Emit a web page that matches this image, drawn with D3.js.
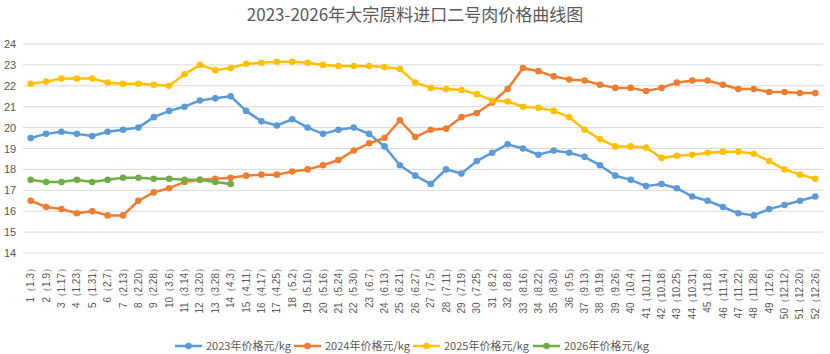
<!DOCTYPE html>
<html>
<head>
<meta charset="utf-8">
<script src="https://cdn.jsdelivr.net/npm/d3@7"></script>
<style>
  body { margin: 0; background: #fff; }
  text { font-family: "Noto Sans CJK SC", "Noto Sans", sans-serif; }
</style>
</head>
<body>
<div id="chart"></div>
<script>
// week labels
const weeks = ["1（1.3）","2（1.9）","3（1.17）","4（1.23）","5（1.31）","6（2.7）","7（2.13）","8（2.20）","9（2.28）","10（3.6）",
  "11（3.14）","12（3.20）","13（3.28）","14（4.3）","15（4.11）","16（4.17）","17（4.25）","18（5.2）","19（5.10）","20（5.16）",
  "21（5.24）","22（5.30）","23（6.7）","24（6.13）","25（6.21）","26（6.27）","27（7.5）","28（7.11）","29（7.19）","30（7.25）",
  "31（8.2）","32（8.8）","33（8.16）","34（8.22）","35（8.30）","36（9.5）","37（9.13）","38（9.19）","39（9.26）","40（10.4）",
  "41（10.11）","42（10.18）","43（10.25）","44（10.31）","45（11.8）","46（11.14）","47（11.22）","48（11.28）","49（12.6）","50（12.12）",
  "51（12.20）","52（12.26）"];

const price2023 = [19.5,19.7,19.8,19.7,19.6,19.8,19.9,20.0,20.5,20.8,21.0,21.3,21.4,21.5,20.8,20.3,20.1,20.4,20.0,19.7,
  19.9,20.0,19.7,19.1,18.2,17.7,17.3,18.0,17.8,18.4,18.8,19.2,19.0,18.7,18.9,18.8,18.6,18.2,17.7,17.5,
  17.2,17.3,17.1,16.7,16.5,16.2,15.9,15.8,16.1,16.3,16.5,16.7];
const price2024 = [16.5,16.2,16.1,15.9,16.0,15.8,15.8,16.5,16.9,17.1,17.4,17.5,17.55,17.6,17.7,17.75,17.75,17.9,18.0,18.2,
  18.45,18.9,19.25,19.5,20.35,19.55,19.9,19.95,20.5,20.7,21.2,21.85,22.85,22.7,22.45,22.3,22.25,22.05,21.9,21.9,
  21.75,21.9,22.15,22.25,22.25,22.05,21.85,21.85,21.7,21.7,21.65,21.65];
const price2025 = [22.1,22.2,22.35,22.35,22.35,22.15,22.1,22.1,22.05,22.0,22.55,23.0,22.75,22.85,23.05,23.1,23.15,23.15,23.1,23.0,
  22.95,22.95,22.95,22.9,22.8,22.15,21.9,21.85,21.8,21.6,21.3,21.25,21.0,20.95,20.8,20.5,19.9,19.45,19.1,19.1,
  19.05,18.55,18.65,18.7,18.8,18.85,18.85,18.75,18.4,18.0,17.75,17.55];
const price2026 = [17.5,17.4,17.4,17.5,17.4,17.5,17.6,17.6,17.55,17.55,17.5,17.5,17.4,17.3];

const seriesNames = ["2023年价格元/kg","2024年价格元/kg","2025年价格元/kg","2026年价格元/kg"];
const seriesColors = ["#5B9BD5","#ED7D31","#FFC000","#70AD47"];
const yTicks = [14,15,16,17,18,19,20,21,22,23,24];

const series = [price2023, price2024, price2025, price2026].map((vals, i) => ({
  name: seriesNames[i], color: seriesColors[i], values: vals
}));

const width = 830, height = 354;
const margin = {top: 44, right: 7, bottom: 101, left: 23};

const svg = d3.select("#chart").append("svg")
  .attr("width", width).attr("height", height);

svg.append("text")
  .attr("x", 415).attr("y", 21)
  .attr("text-anchor", "middle")
  .attr("fill", "#595959")
  .style("font-size", "17px")
  .text("2023-2026年大宗原料进口二号肉价格曲线图");

const xScale = d3.scaleBand().domain(weeks).range([margin.left, width - margin.right]);
const yScale = d3.scaleLinear().domain([14, 24]).range([height - margin.bottom, margin.top]);

// grid lines
svg.append("g")
  .selectAll("line")
  .data(yTicks)
  .join("line")
  .attr("x1", margin.left).attr("x2", width - margin.right)
  .attr("y1", d => yScale(d)).attr("y2", d => yScale(d))
  .attr("stroke", "#d9d9d9").attr("stroke-width", 1);

// y axis
const yAxis = d3.axisLeft(yScale).tickValues(yTicks).tickSize(0).tickPadding(4);
svg.append("g")
  .attr("transform", `translate(${margin.left},0)`)
  .call(yAxis)
  .call(g => g.select(".domain").remove())
  .selectAll("text")
  .attr("fill", "#595959")
  .attr("text-anchor", "start")
  .attr("x", -19)
  .style("font-size", "11px")
  .style("font-family", "'Liberation Sans', Arial, sans-serif");

// x axis
const xAxis = d3.axisBottom(xScale).tickSize(0).tickPadding(0);
svg.append("g")
  .attr("transform", `translate(0,${height - margin.bottom})`)
  .call(xAxis)
  .call(g => g.select(".domain").remove())
  .selectAll("text")
  .attr("fill", "#595959")
  .style("font-size", "10px")
  .style("font-family", "'Liberation Sans', Arial, sans-serif")
  .attr("text-anchor", "end")
  .attr("dy", "0.35em")
  .attr("transform", "translate(0,10) rotate(-90)")
  .attr("x", 0).attr("y", 0);

// lines and markers
const line = d3.line()
  .x((d, i) => xScale(weeks[i]) + xScale.bandwidth() / 2)
  .y(d => yScale(d));

series.forEach(s => {
  const g = svg.append("g");
  g.append("path")
    .datum(s.values)
    .attr("d", line)
    .attr("fill", "none")
    .attr("stroke", s.color)
    .attr("stroke-width", 2.5)
    .attr("stroke-linejoin", "round");
  g.selectAll("circle")
    .data(s.values)
    .join("circle")
    .attr("cx", (d, i) => xScale(weeks[i]) + xScale.bandwidth() / 2)
    .attr("cy", d => yScale(d))
    .attr("r", 3.3)
    .attr("fill", s.color);
});

// legend
const legendX = [175, 294, 413, 533];
const legend = svg.append("g").attr("transform", "translate(0,346)");
series.forEach((s, i) => {
  const g = legend.append("g").attr("transform", `translate(${legendX[i]},0)`);
  g.append("line").attr("x1", 0).attr("x2", 27).attr("y1", 0).attr("y2", 0)
    .attr("stroke", s.color).attr("stroke-width", 2.5);
  g.append("circle").attr("cx", 13.5).attr("cy", 0).attr("r", 3.3).attr("fill", s.color);
  g.append("text").attr("x", 31).attr("y", 0).attr("dy", "0.36em")
    .attr("fill", "#595959").style("font-size", "11px").text(s.name);
});
</script>
</body>
</html>
